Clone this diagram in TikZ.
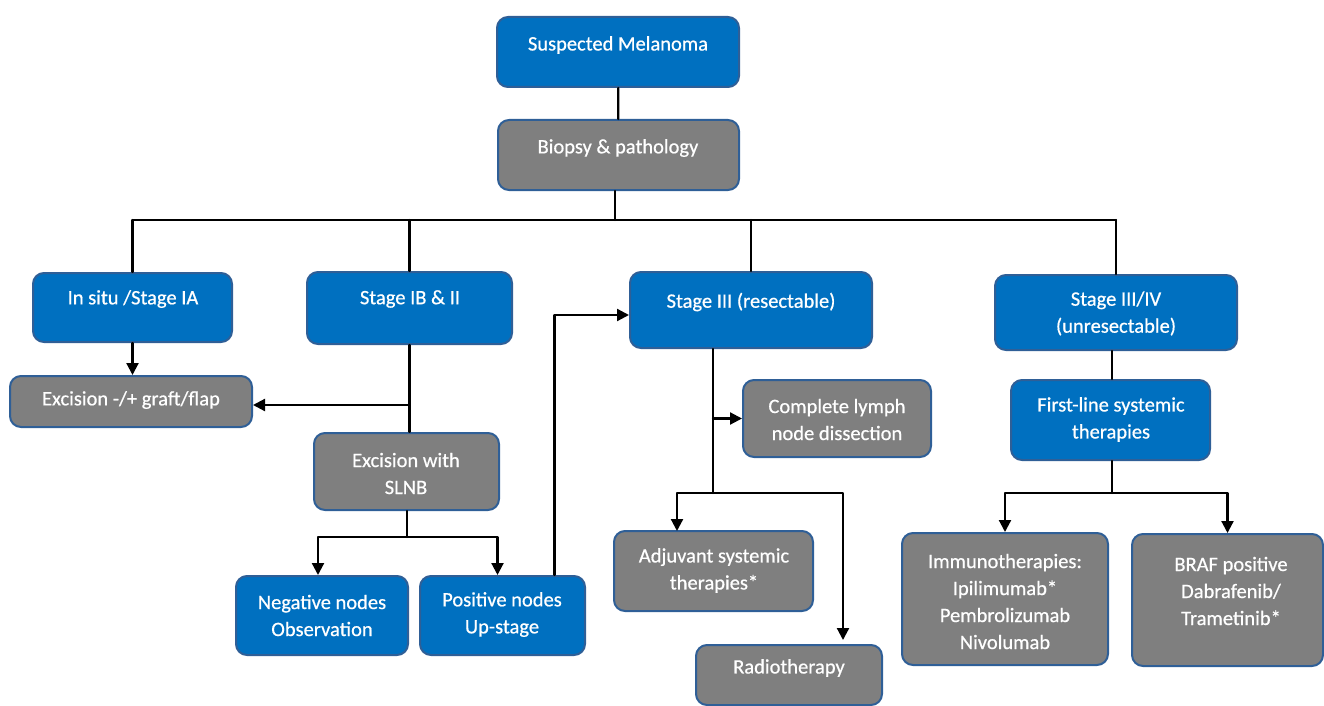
\documentclass[tikz,border=0pt]{standalone}
\usepackage{fontspec}
\setmainfont{Carlito}
\newfontfamily\boxfont[FakeBold=0.6]{Carlito}
\usetikzlibrary{arrows.meta}
\definecolor{stageblue}{HTML}{0070C0}
\definecolor{caregray}{HTML}{7F7F7F}
\definecolor{boxedge}{HTML}{2F5F97}
\tikzset{
  stagebox/.style={draw=boxedge, line width=2pt, rounded corners=11pt, fill=stageblue, inner sep=0pt},
  carebox/.style={stagebox, fill=caregray},
  boxtext/.style={text=white, align=center, inner sep=0pt, font=\boxfont\fontsize{20.5}{27}\selectfont},
  link/.style={line width=2.2pt, black},
  arrow/.style={link, -{Triangle[length=12pt,width=12pt]}}
}
\begin{document}
\begin{tikzpicture}[line cap=round, line join=round, x=1pt, y=-1pt]
                \useasboundingbox (0,0) rectangle (1324,706);
                % boxes
                \node[stagebox, minimum width=242, minimum height=70] (susp) at (618,52) {};
                \node[carebox, minimum width=241, minimum height=70] (biopsy) at (618.5,155) {};
                \node[stagebox, minimum width=199, minimum height=69] (insitu) at (132.5,307.5) {};
                \node[stagebox, minimum width=205, minimum height=72] (ibstage) at (409.5,308) {};
                \node[stagebox, minimum width=242, minimum height=76] (stageIII) at (751,310) {};
                \node[stagebox, minimum width=242, minimum height=75] (stageIV) at (1116,312.5) {};
                \node[carebox, minimum width=242, minimum height=51] (flap) at (131,401.5) {};
                \node[carebox, minimum width=185, minimum height=77] (slnb) at (406.5,471.5) {};
                \node[stagebox, minimum width=172, minimum height=79] (neg) at (322,615.5) {};
                \node[stagebox, minimum width=165, minimum height=79] (pos) at (502.5,615.5) {};
                \node[carebox, minimum width=188, minimum height=77] (lymph) at (837,418.5) {};
                \node[carebox, minimum width=199, minimum height=80] (adjuv) at (713.5,571) {};
                \node[carebox, minimum width=186, minimum height=60] (radio) at (789,675) {};
                \node[stagebox, minimum width=199, minimum height=80] (firstline) at (1110.5,420) {};
                \node[carebox, minimum width=206, minimum height=132] (immuno) at (1005,599) {};
                \node[carebox, minimum width=191, minimum height=132] (braf) at (1227.5,600) {};
                % texts
                \node[boxtext] (susp-t) at (618,45) {Suspected Melanoma};
                \node[boxtext] (biopsy-t) at (618,148) {Biopsy \& pathology};
                \node[boxtext] (insitu-t) at (133,299) {In situ /Stage IA};
                \node[boxtext] (ibstage-t) at (410,299) {Stage IB \& II};
                \node[boxtext] (stageIII-t) at (751,302) {Stage III (resectable)};
                \node[boxtext] (stageIV-t) at (1116,313.5) {Stage III/IV\\(unresectable)};
                \node[boxtext] (flap-t) at (131,400) {Excision -/+ graft/flap};
                \node[boxtext] (slnb-t) at (406,473.5) {Excision with\\SLNB};
                \node[boxtext] (neg-t) at (322,615.5) {Negative nodes\\Observation};
                \node[boxtext] (pos-t) at (502,614.5) {Positive nodes\\Up-stage};
                \node[boxtext] (lymph-t) at (837,419.5) {Complete lymph\\node dissection};
                \node[boxtext] (adjuv-t) at (714,570.5) {Adjuvant systemic\\therapies*};
                \node[boxtext] (radio-t) at (789,668) {Radiotherapy};
                \node[boxtext] (firstline-t) at (1111,419.5) {First-line systemic\\therapies};
                \node[boxtext] (immuno-t) at (1005,601.5) {Immunotherapies:\\Ipilimumab*\\Pembrolizumab\\Nivolumab};
                \node[boxtext] (braf-t) at (1231,591) {BRAF positive\\Dabrafenib/\\Trametinib*};
                % split points
                \coordinate (bus) at (615,220);
                \coordinate (slnbsplit) at (407,537);
                \coordinate (iiisplit) at (713,493);
                \coordinate (ivsplit) at (1112,493);
                \coordinate (adjin) at (677,531);
                \coordinate (radioin) at (843,640);
                % connectors
                \draw[link] (susp) -- (biopsy);
                \draw[link] (biopsy.south -| bus) -- (bus);
                \draw[link] (insitu.north |- bus) -- (stageIV.north |- bus);
                \foreach \stage in {insitu, ibstage, stageIII, stageIV}
                    \draw[link] (\stage.north) -- (\stage.north |- bus);
                \draw[arrow] (insitu.south) -- (insitu.south |- flap.north);
                \draw[link] (ibstage.south) -- (ibstage.south |- slnb.north);
                \draw[arrow] (ibstage.south |- {(0,405)}) -- (flap.east |- {(0,405)});
                \draw[link] (slnb.south -| slnbsplit) -- (slnbsplit);
                \draw[arrow] (slnbsplit) -| ([xshift=-4pt]neg.north);
                \draw[arrow] (slnbsplit) -| ([xshift=-5pt]pos.north);
                \draw[arrow] ([xshift=52pt]pos.north) |- ([yshift=-5pt]stageIII.west);
                \draw[link] (stageIII.south -| iiisplit) -- (iiisplit);
                \draw[arrow] (iiisplit |- lymph.west) -- (lymph.west);
                \draw[arrow] (iiisplit) -| (adjin);
                \draw[arrow] (iiisplit) -| (radioin);
                \draw[link] (stageIV.south -| ivsplit) -- (firstline.north -| ivsplit);
                \draw[link] (firstline.south -| ivsplit) -- (ivsplit);
                \draw[arrow] (ivsplit) -| (immuno.north);
                \draw[arrow] (ivsplit) -| (braf.north);
            \end{tikzpicture}
\end{document}
